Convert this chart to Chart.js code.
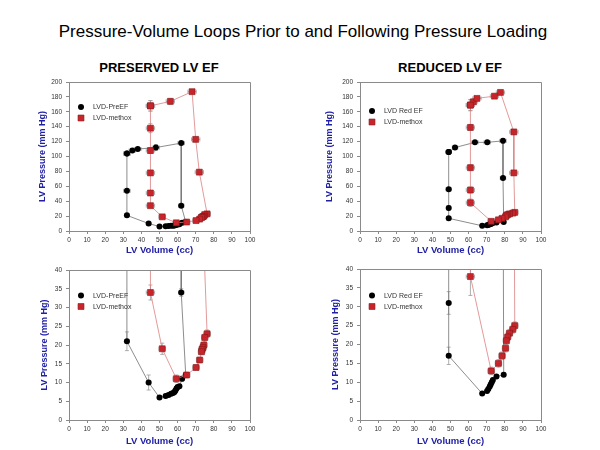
<!DOCTYPE html>
<html><head><meta charset="utf-8">
<script src="https://cdn.jsdelivr.net/npm/chart.js@4"></script>
<style>
body{margin:0;width:600px;height:450px;background:#fff;position:relative;overflow:hidden;font-family:"Liberation Sans",Arial,sans-serif;}
canvas{position:absolute;}
.t{position:absolute;white-space:nowrap;transform:translate(-50%,-50%);color:#000;}
</style></head><body>
<div class="t" style="left:303px;top:32px;font-size:17px;">Pressure-Volume Loops Prior to and Following Pressure Loading</div>
<div class="t" style="left:159px;top:67px;font-size:13px;font-weight:bold;">PRESERVED LV EF</div>
<div class="t" style="left:450px;top:67px;font-size:13px;font-weight:bold;">REDUCED LV EF</div>
<canvas id="tl" width="240" height="190" style="left:20px;top:70px"></canvas>
<canvas id="bl" width="240" height="190" style="left:20px;top:260px"></canvas>
<canvas id="tr" width="240" height="190" style="left:310px;top:70px"></canvas>
<canvas id="br" width="240" height="190" style="left:310px;top:260px"></canvas>
<script>
// ---------- data ----------
const xTicksLabel = 'LV Volume (cc)';
const yTicksLabel = 'LV Pressure (mm Hg)';
const seriesNamesPreserved = ['LVD-PreEF', 'LVD-methox'];
const seriesNamesReduced = ['LVD Red EF', 'LVD-methox'];

// Preserved EF, baseline (black)
const prePreVol  = [32, 35, 38, 48, 62, 62, 64.5, 62.5, 61, 60, 59.4, 58.8, 58.3, 57.5, 56.4, 55, 53.4, 50, 44, 32, 32, 32];
const prePrePres = [104, 108, 110, 112, 118, 34, 12, 11, 9, 8.8, 8.4, 7.9, 7.5, 7.2, 7.0, 6.7, 6.4, 6, 10, 21, 54, 104];
const prePreVolErr  = [1.8, 1.8, 1.8, 2, 1.8, 1.5, 1.2, 1, 0.6, 0.6, 0.6, 0.6, 0.6, 0.6, 0.6, 0.6, 0.6, 0.6, 1.2, 1.2, 1.8, 1.8];
const prePrePresErr = [2, 2, 2, 4, 2, 1, 0.7, 0.7, 0.5, 0.5, 0.5, 0.5, 0.5, 0.5, 0.5, 0.5, 0.5, 0.5, 2, 2.5, 2, 2];

// Preserved EF, methoxamine (red)
const preMethVol  = [45, 56, 68, 70, 72, 76.3, 75, 74.5, 74, 73.5, 73.2, 72.2, 70.2, 65, 59.3, 51.5, 45, 45, 45, 45, 45, 45];
const preMethPres = [168, 174, 187, 123, 79, 23, 22, 20, 19.3, 18.8, 18.2, 16, 14, 12, 11, 19, 34, 51, 78, 108, 138, 168];
const preMethVolErr  = [2.3, 2.3, 2.3, 2.3, 2.3, 1.8, 1.8, 1.8, 1.8, 1.8, 1.8, 1.8, 1.8, 1.8, 1.8, 1.8, 2.3, 2.3, 2.3, 2.3, 2.3, 2.3];
const preMethPresErr = [7, 4, 2, 3, 2.5, 1, 1, 0.7, 0.7, 0.7, 0.7, 0.7, 0.7, 0.7, 1, 1.5, 2, 3, 3, 4, 6, 7];

// Reduced EF, baseline (black)
const redBaseVol  = [49, 52.5, 63.5, 70.3, 79, 79, 79.4, 75.4, 73.4, 72.8, 72.2, 71.7, 70.9, 70.2, 67.5, 49, 49, 49, 49];
const redBasePres = [106, 112, 119, 119, 121, 71, 12, 11.5, 10.6, 10, 9.4, 8.9, 8.2, 7.7, 7, 17, 31, 56, 106];
const redBaseVolErr  = [1.5, 1.5, 1.8, 1.8, 1.8, 1.5, 1, 0.6, 0.6, 0.6, 0.6, 0.6, 0.6, 0.6, 0.6, 1.2, 1.2, 1.5, 1.5];
const redBasePresErr = [3, 2, 2, 2, 3, 2, 0.5, 0.5, 0.5, 0.5, 0.5, 0.5, 0.5, 0.5, 0.5, 2.3, 3, 2, 3];

// Reduced EF, methoxamine (red)
const redMethVol  = [61, 62.7, 64.6, 74.3, 77.6, 85, 85, 85.5, 84.4, 82.6, 81.6, 80.9, 80.4, 78.5, 76.5, 72.5, 61, 61, 61, 61, 61];
const redMethPres = [169, 173.5, 178, 181, 186, 133, 78, 25, 24, 23, 22, 21, 19, 17, 15, 13, 38, 55, 85, 139, 169];
const redMethVolErr  = [2.3, 2.3, 2.3, 2.3, 2.3, 2.3, 2.3, 1.8, 1.8, 1.8, 1.8, 1.8, 1.8, 1.8, 1.8, 1.8, 2.3, 2.3, 2.3, 2.3, 2.3];
const redMethPresErr = [7.5, 3, 2, 2, 2, 3, 3, 1, 1, 1, 1, 1, 1, 1, 1, 1, 5, 4, 4, 4, 7.5];

const xTickValues = [0, 100, 10];      // min, max, step
const yTickTop = [0, 200, 20];
const yTickBottom = [0, 40, 5];

// ---------- rendering ----------
Chart.defaults.font.family = '"Liberation Sans", Arial, sans-serif';
const xy = (vx, vy) => vx.map((v, i) => ({x: v, y: vy[i]}));

const errorBars = {
  id: 'errorBars',
  beforeDatasetsDraw(chart) {
    const ctx = chart.ctx, xs = chart.scales.x, ys = chart.scales.y, a = chart.chartArea;
    ctx.save();
    ctx.beginPath(); ctx.rect(a.left, a.top, a.right - a.left, a.bottom - a.top); ctx.clip();
    ctx.strokeStyle = '#9a9a9a'; ctx.lineWidth = 0.8;
    chart.data.datasets.forEach(ds => {
      ds.data.forEach((pt, i) => {
        const px = xs.getPixelForValue(pt.x), py = ys.getPixelForValue(pt.y);
        const ex = ds.errX ? ds.errX[i] : 0, ey = ds.errY ? ds.errY[i] : 0;
        ctx.beginPath();
        if (ex) {
          const x1 = xs.getPixelForValue(pt.x - ex), x2 = xs.getPixelForValue(pt.x + ex);
          ctx.moveTo(x1, py); ctx.lineTo(x2, py);
          ctx.moveTo(x1, py - 2); ctx.lineTo(x1, py + 2);
          ctx.moveTo(x2, py - 2); ctx.lineTo(x2, py + 2);
        }
        if (ey) {
          const y1 = ys.getPixelForValue(pt.y - ey), y2 = ys.getPixelForValue(pt.y + ey);
          ctx.moveTo(px, y1); ctx.lineTo(px, y2);
          ctx.moveTo(px - 2, y1); ctx.lineTo(px + 2, y1);
          ctx.moveTo(px - 2, y2); ctx.lineTo(px + 2, y2);
        }
        ctx.stroke();
      });
    });
    ctx.restore();
  }
};

const frame = {
  id: 'frame',
  afterDraw(chart) {
    const ctx = chart.ctx, a = chart.chartArea;
    ctx.save();
    ctx.strokeStyle = '#8a8a8a'; ctx.lineWidth = 1;
    ctx.beginPath();
    ctx.moveTo(Math.round(a.left) , Math.round(a.top) + 0.5);
    ctx.lineTo(Math.round(a.right) + 0.5, Math.round(a.top) + 0.5);
    ctx.lineTo(Math.round(a.right) + 0.5, Math.round(a.bottom));
    ctx.stroke();
    ctx.restore();
  }
};

const inlineLegend = {
  id: 'inlineLegend',
  afterDraw(chart, args, opts) {
    const ctx = chart.ctx, a = chart.chartArea;
    ctx.save();
    chart.data.datasets.forEach((ds, i) => {
      const x = a.left + opts.x, y = a.top + opts.y + i * opts.gap;
      ctx.fillStyle = ds.pointBackgroundColor;
      ctx.strokeStyle = ds.pointBorderColor;
      ctx.lineWidth = ds.pointBorderWidth || 0;
      ctx.beginPath();
      if (ds.pointStyle === 'rect') {
        const s = ds.pointRadius * Math.SQRT1_2;
        ctx.rect(x - s, y - s, 2 * s, 2 * s);
      } else {
        ctx.arc(x, y, ds.pointRadius, 0, Math.PI * 2);
      }
      ctx.fill();
      if (ds.pointBorderWidth) ctx.stroke();
      ctx.fillStyle = '#333';
      ctx.font = '7px "Liberation Sans", Arial, sans-serif';
      ctx.textBaseline = 'middle';
      ctx.textAlign = 'left';
      ctx.fillText(ds.label, a.left + opts.x + 12, y + 0.5);
    });
    ctx.restore();
  }
};

function panel(id, p) {
  new Chart(document.getElementById(id), {
    type: 'scatter',
    data: {
      datasets: [
        {label: p.names[0], data: xy(p.b.vol, p.b.pres), errX: p.b.ve, errY: p.b.pe,
         showLine: true, borderColor: '#707070', borderWidth: 0.8, tension: 0,
         pointStyle: 'circle', pointRadius: 3, pointBackgroundColor: '#000', pointBorderColor: '#000',
         pointBorderWidth: 0, order: 1},
        {label: p.names[1], data: xy(p.m.vol, p.m.pres), errX: p.m.ve, errY: p.m.pe,
         showLine: true, borderColor: '#dc8080', borderWidth: 0.8, tension: 0,
         pointStyle: 'rect', pointRadius: 4.2, pointBackgroundColor: '#c8242b', pointBorderColor: '#861818',
         pointBorderWidth: 0.6, order: 0}
      ]
    },
    options: {
      responsive: false, animation: false, devicePixelRatio: 1,
      layout: {padding: {top: p.padTop, right: p.padRight, left: 0, bottom: 0}},
      plugins: {
        legend: {display: false}, tooltip: {enabled: false},
        inlineLegend: {x: 12, y: p.legY, gap: 11}
      },
      scales: {
        x: {
          type: 'linear', min: xTickValues[0], max: xTickValues[1],
          ticks: {stepSize: xTickValues[2], maxRotation: 0, autoSkip: false, padding: 2,
                  color: '#333', font: {size: 6.5}},
          grid: {drawOnChartArea: false, drawTicks: true, tickLength: 3, color: '#8a8a8a'},
          border: {color: '#8a8a8a'},
          title: {display: true, text: xTicksLabel, color: '#2121a6',
                  font: {size: 9.5, weight: 'bold'}, padding: {top: 0, bottom: p.xTitlePad}},
          afterFit: s => { s.height = p.xH; }
        },
        y: {
          type: 'linear', min: p.yt[0], max: p.yt[1],
          ticks: {stepSize: p.yt[2], padding: 4, color: '#333', font: {size: 6.5}},
          grid: {drawOnChartArea: false, drawTicks: true, tickLength: 3, color: '#8a8a8a'},
          border: {color: '#8a8a8a'},
          title: {display: true, text: yTicksLabel, color: '#2121a6',
                  font: {size: 9, weight: 'bold'}, padding: {top: p.yTitlePad, bottom: 0}},
          afterFit: s => { s.width = p.yW; }
        }
      }
    },
    plugins: [errorBars, frame, inlineLegend]
  });
}

const preB = {vol: prePreVol, pres: prePrePres, ve: prePreVolErr, pe: prePrePresErr};
const preM = {vol: preMethVol, pres: preMethPres, ve: preMethVolErr, pe: preMethPresErr};
const redB = {vol: redBaseVol, pres: redBasePres, ve: redBaseVolErr, pe: redBasePresErr};
const redM = {vol: redMethVol, pres: redMethPres, ve: redMethVolErr, pe: redMethPresErr};

panel('tl', {names: seriesNamesPreserved, b: preB, m: preM, yt: yTickTop,
  padTop: 12, padRight: 10, yW: 49, xH: 29, xTitlePad: 3.5, yTitlePad: 17, legY: 25});
panel('bl', {names: seriesNamesPreserved, b: preB, m: preM, yt: yTickBottom,
  padTop: 10, padRight: 10, yW: 49, xH: 30, xTitlePad: 2.5, yTitlePad: 19.5, legY: 25.5});
panel('tr', {names: seriesNamesReduced, b: redB, m: redM, yt: yTickTop,
  padTop: 12, padRight: 9, yW: 50, xH: 29, xTitlePad: 3.5, yTitlePad: 14.5, legY: 29});
panel('br', {names: seriesNamesReduced, b: redB, m: redM, yt: yTickBottom,
  padTop: 9, padRight: 9, yW: 50, xH: 30, xTitlePad: 2.5, yTitlePad: 20.5, legY: 26.5});
</script>
</body></html>
